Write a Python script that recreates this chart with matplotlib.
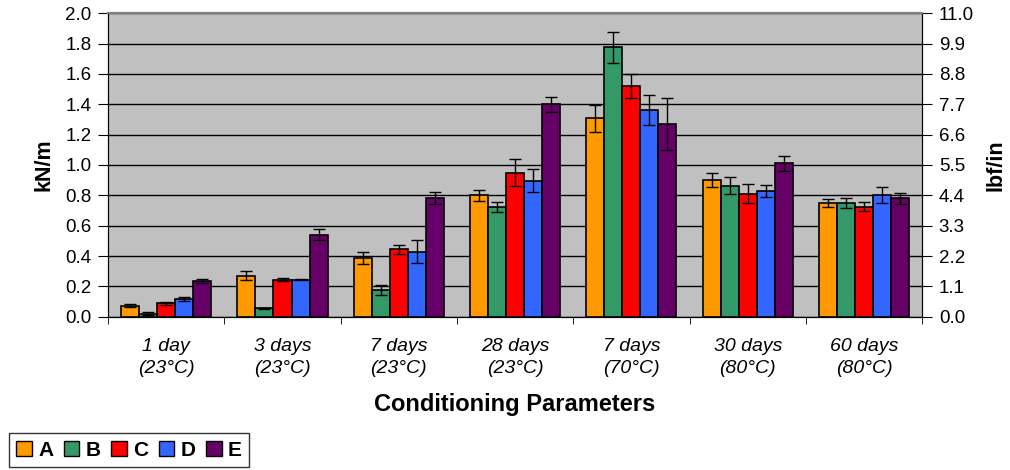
import numpy as np
import matplotlib.pyplot as plt
from matplotlib.patches import Patch

plt.rcParams['font.family'] = ['Liberation Sans', 'DejaVu Sans']

categories = ["1 day\n(23°C)", "3 days\n(23°C)", "7 days\n(23°C)", "28 days\n(23°C)",
              "7 days\n(70°C)", "30 days\n(80°C)", "60 days\n(80°C)"]
series = ["A", "B", "C", "D", "E"]
colors = ["#FF9900", "#339966", "#FF0000", "#3366FF", "#660066"]

# values in kN/m, one list per series
A = [0.072, 0.27, 0.386, 0.80, 1.307, 0.90, 0.75]
B = [0.02, 0.055, 0.175, 0.724, 1.774, 0.864, 0.75]
C = [0.09, 0.245, 0.445, 0.95, 1.52, 0.81, 0.724]
D = [0.116, 0.245, 0.43, 0.897, 1.36, 0.83, 0.80]
E = [0.237, 0.54, 0.78, 1.40, 1.27, 1.01, 0.78]
# error bars
A_err = [0.01, 0.03, 0.04, 0.037, 0.088, 0.045, 0.027]
B_err = [0.01, 0.003, 0.033, 0.033, 0.105, 0.058, 0.035]
C_err = [0.01, 0.01, 0.03, 0.09, 0.08, 0.063, 0.03]
D_err = [0.015, 0.005, 0.075, 0.075, 0.098, 0.04, 0.053]
E_err = [0.015, 0.035, 0.04, 0.05, 0.17, 0.05, 0.035]

values = [A, B, C, D, E]
errors = [A_err, B_err, C_err, D_err, E_err]

fig = plt.figure(figsize=(10.1, 4.7), dpi=100)
ax = fig.add_axes([0.107, 0.326, 0.806, 0.646])
ax.set_facecolor("#C0C0C0")

x = np.arange(len(categories))
w = 0.155
for i, (vals, errs) in enumerate(zip(values, errors)):
    ax.bar(x + (i - 2) * w, vals, w, color=colors[i], edgecolor="black", linewidth=1.2,
           yerr=errs, capsize=4.5, error_kw=dict(elinewidth=1, capthick=1, ecolor="black"),
           zorder=3)

ax.set_xlim(-0.5, len(categories) - 0.5)
ax.set_ylim(0, 2.0)
ax.set_yticks(np.arange(0, 2.01, 0.2))
ax.set_yticklabels([f"{v:.1f}" for v in np.arange(0, 2.01, 0.2)], fontsize=13.5)
ax.yaxis.grid(True, color="black", linewidth=1, zorder=0)
ax.set_axisbelow(True)

ax.set_xticks(x)
ax.set_xticklabels(categories, fontsize=14, style="italic", linespacing=1.4)
ax.set_xticks(np.arange(-0.5, len(categories), 1), minor=True)
ax.tick_params(axis="x", which="major", length=0, pad=15)
ax.tick_params(axis="x", which="minor", length=5, direction="out")
ax.tick_params(axis="y", length=7, direction="out", pad=5)
ax.spines["top"].set_color("#808080")
ax.spines["top"].set_linewidth(1.5)

ax.set_ylabel("kN/m", fontsize=15.5, fontweight="bold", labelpad=8)
ax.set_xlabel("Conditioning Parameters", fontsize=17, fontweight="bold", labelpad=12)

ax2 = ax.twinx()
ax2.set_ylim(0, 11.0)
ticks2 = np.arange(0, 11.01, 1.1)
ax2.set_yticks(ticks2)
ax2.set_yticklabels([f"{v:.1f}" for v in ticks2], fontsize=13.5)
ax2.tick_params(axis="y", length=7, direction="out", pad=5)
ax2.set_ylabel("lbf/in", fontsize=15.5, fontweight="bold", labelpad=8)
ax2.spines["top"].set_color("#808080")
ax2.spines["top"].set_linewidth(1.5)

handles = [Patch(facecolor=c, edgecolor="black", label=s) for c, s in zip(colors, series)]
leg = fig.legend(handles=handles, loc="upper left", bbox_to_anchor=(0.009, 0.078),
                 ncol=5, frameon=True, fancybox=False, edgecolor="black",
                 prop=dict(size=15, weight="bold"), handlelength=0.75, handleheight=0.75,
                 handletextpad=0.3, columnspacing=0.5, borderpad=0.35, borderaxespad=0)
leg.get_frame().set_linewidth(1)

fig.savefig("out.png", dpi=100)
